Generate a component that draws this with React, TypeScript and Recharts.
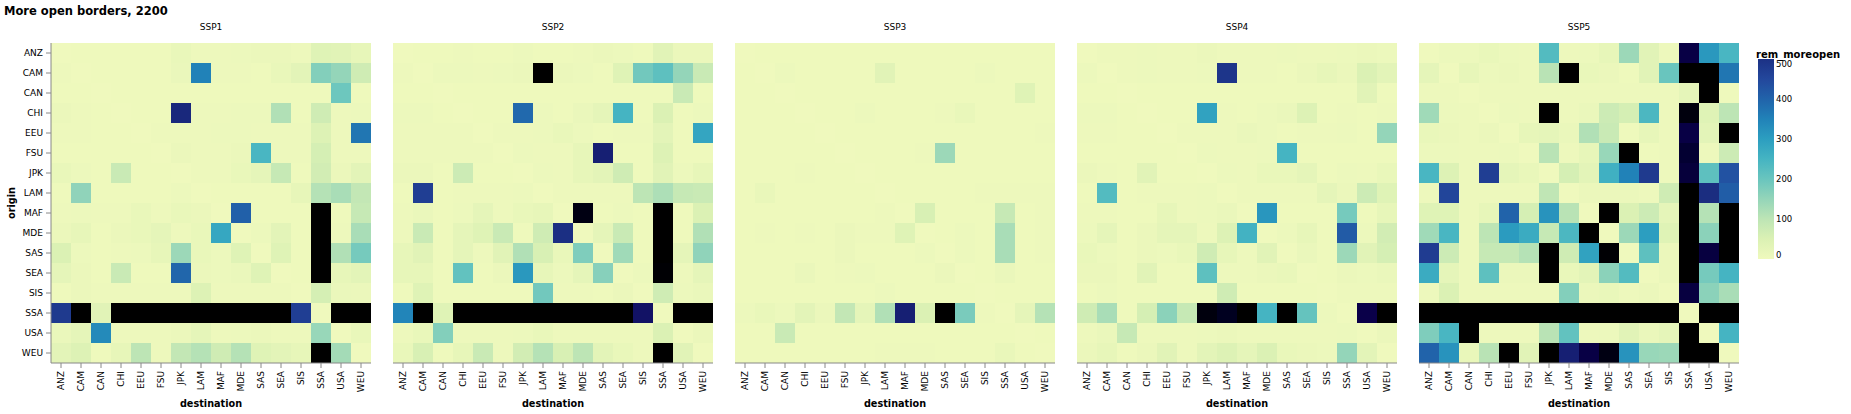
import { BarChart, Bar, Cell, XAxis, YAxis } from "recharts";

// regions, used both as origin (rows) and destination (columns)
const regions = ["ANZ", "CAM", "CAN", "CHI", "EEU", "FSU", "JPK", "LAM", "MAF", "MDE", "SAS", "SEA", "SIS", "SSA", "USA", "WEU"];
const panelNames = ["SSP1", "SSP2", "SSP3", "SSP4", "SSP5"];

// rem_moreopen, one row per origin, one column per destination
const ssp1 = [
  [0, 3, 3, 3, 3, 3, 15, 5, 5, 8, 10, 10, 5, 40, 35, 20],
  [5, 0, 3, 3, 3, 3, 12, 350, 5, 5, 3, 15, 30, 170, 150, 70],
  [3, 3, 0, 3, 3, 3, 3, 3, 3, 3, 3, 3, 3, 3, 195, 3],
  [10, 5, 3, 0, 3, 3, 520, 5, 5, 8, 8, 115, 3, 70, 5, 8],
  [5, 5, 3, 3, 0, 5, 5, 5, 8, 8, 5, 5, 5, 45, 5, 370],
  [3, 3, 3, 3, 3, 0, 10, 5, 5, 10, 245, 5, 5, 60, 5, 5],
  [15, 8, 3, 80, 3, 3, 0, 5, 5, 15, 25, 85, 3, 65, 10, 30],
  [3, 155, 3, 3, 3, 3, 8, 0, 3, 3, 3, 3, 20, 110, 125, 90],
  [5, 8, 5, 5, 15, 5, 15, 10, 0, 405, 3, 3, 3, 900, 3, 85],
  [10, 20, 3, 10, 15, 25, 5, 15, 280, 0, 8, 30, 3, 900, 5, 125],
  [50, 8, 3, 5, 8, 20, 140, 15, 8, 40, 0, 40, 3, 900, 115, 185],
  [25, 10, 3, 80, 3, 3, 395, 10, 8, 12, 40, 0, 3, 900, 20, 30],
  [3, 10, 5, 5, 5, 5, 5, 45, 5, 5, 5, 5, 0, 60, 12, 10],
  [480, 900, 35, 900, 900, 900, 900, 900, 900, 900, 900, 900, 470, 0, 900, 900],
  [12, 25, 335, 5, 5, 5, 10, 25, 5, 8, 10, 5, 5, 145, 0, 15],
  [30, 45, 3, 20, 100, 5, 90, 110, 70, 110, 40, 30, 20, 900, 130, 0],
];

const ssp2 = [
  [0, 3, 3, 5, 3, 3, 8, 3, 3, 5, 10, 8, 3, 35, 10, 10],
  [5, 0, 8, 8, 5, 8, 10, 900, 10, 8, 3, 40, 190, 215, 150, 80],
  [3, 3, 0, 3, 3, 3, 3, 3, 3, 3, 3, 3, 3, 3, 80, 3],
  [8, 8, 3, 0, 3, 3, 390, 8, 3, 12, 25, 250, 3, 50, 3, 8],
  [5, 5, 5, 5, 0, 5, 5, 8, 15, 8, 3, 5, 5, 30, 3, 285],
  [5, 5, 5, 5, 5, 0, 8, 5, 5, 20, 540, 3, 3, 45, 3, 3],
  [10, 10, 3, 75, 3, 3, 0, 8, 5, 20, 30, 70, 3, 35, 8, 20],
  [3, 470, 3, 5, 5, 5, 8, 0, 5, 5, 5, 5, 100, 120, 85, 80],
  [5, 12, 3, 8, 25, 5, 15, 20, 0, 750, 3, 8, 3, 900, 3, 50],
  [5, 80, 3, 25, 40, 80, 3, 70, 505, 0, 25, 80, 3, 900, 3, 115],
  [20, 35, 3, 25, 5, 35, 115, 55, 15, 175, 0, 135, 3, 900, 25, 155],
  [20, 20, 3, 210, 3, 10, 310, 20, 8, 25, 165, 0, 8, 780, 5, 25],
  [3, 40, 3, 3, 3, 3, 3, 190, 5, 5, 3, 10, 0, 70, 8, 12],
  [345, 900, 40, 900, 900, 900, 900, 900, 900, 900, 900, 900, 570, 0, 900, 900],
  [5, 15, 170, 5, 5, 5, 8, 15, 5, 5, 5, 5, 5, 50, 0, 10],
  [15, 55, 3, 20, 80, 5, 65, 110, 55, 100, 30, 15, 5, 900, 35, 0],
];

const ssp3 = [
  [0, 3, 3, 3, 3, 3, 3, 3, 3, 3, 3, 3, 3, 3, 3, 3],
  [3, 0, 8, 3, 3, 3, 3, 35, 3, 3, 3, 3, 8, 3, 3, 3],
  [3, 3, 0, 3, 3, 3, 3, 3, 3, 3, 3, 3, 3, 3, 40, 3],
  [3, 3, 3, 0, 3, 3, 8, 3, 3, 3, 5, 15, 3, 3, 3, 3],
  [3, 3, 3, 3, 0, 3, 3, 3, 3, 3, 3, 3, 3, 3, 3, 5],
  [3, 3, 3, 3, 3, 0, 3, 3, 3, 5, 140, 3, 3, 3, 3, 3],
  [3, 3, 3, 5, 3, 3, 0, 3, 3, 3, 3, 3, 3, 3, 3, 3],
  [3, 15, 3, 3, 3, 3, 3, 0, 3, 3, 3, 3, 5, 5, 5, 5],
  [3, 3, 3, 3, 3, 3, 3, 5, 0, 55, 3, 3, 3, 85, 3, 5],
  [3, 5, 3, 5, 3, 10, 5, 5, 40, 0, 3, 8, 3, 125, 3, 5],
  [3, 3, 3, 3, 3, 10, 3, 3, 3, 8, 0, 8, 3, 125, 3, 5],
  [3, 3, 3, 12, 3, 5, 8, 3, 3, 3, 10, 0, 3, 12, 3, 3],
  [3, 3, 3, 3, 3, 3, 3, 8, 3, 3, 3, 3, 0, 3, 3, 3],
  [8, 15, 8, 30, 10, 90, 25, 115, 540, 50, 900, 180, 5, 0, 25, 110],
  [3, 3, 80, 3, 3, 3, 3, 3, 3, 3, 3, 3, 3, 3, 0, 3],
  [3, 3, 3, 3, 3, 3, 3, 5, 5, 5, 3, 3, 3, 15, 3, 0],
];

const ssp4 = [
  [0, 5, 5, 8, 5, 5, 10, 5, 5, 5, 8, 5, 5, 8, 10, 8],
  [8, 0, 5, 8, 5, 5, 8, 490, 5, 5, 3, 10, 20, 10, 50, 30],
  [3, 3, 0, 3, 3, 3, 3, 3, 3, 3, 3, 3, 3, 3, 35, 3],
  [8, 8, 3, 0, 3, 3, 290, 5, 3, 8, 12, 45, 3, 5, 3, 5],
  [5, 5, 3, 3, 0, 5, 5, 5, 12, 8, 3, 5, 5, 8, 3, 150],
  [3, 3, 3, 3, 3, 0, 8, 5, 5, 8, 250, 3, 3, 3, 3, 3],
  [10, 5, 3, 35, 3, 3, 0, 8, 5, 15, 15, 25, 3, 8, 5, 15],
  [3, 230, 3, 5, 5, 5, 8, 0, 5, 5, 5, 5, 25, 10, 75, 40],
  [5, 5, 3, 3, 20, 5, 8, 12, 0, 315, 3, 3, 3, 185, 3, 20],
  [8, 25, 3, 10, 25, 25, 5, 45, 255, 0, 8, 20, 3, 415, 8, 65],
  [15, 8, 3, 10, 8, 15, 70, 20, 5, 35, 0, 12, 3, 140, 35, 60],
  [10, 10, 3, 35, 3, 3, 215, 5, 5, 10, 15, 0, 3, 10, 8, 12],
  [3, 8, 3, 3, 3, 3, 3, 70, 3, 3, 3, 3, 0, 5, 5, 5],
  [70, 125, 3, 60, 160, 85, 760, 720, 900, 250, 900, 205, 8, 0, 630, 900],
  [5, 12, 85, 5, 5, 5, 8, 10, 5, 5, 5, 5, 5, 8, 0, 10],
  [10, 20, 3, 10, 35, 5, 30, 45, 25, 50, 15, 10, 8, 150, 30, 0],
];

const ssp5 = [
  [0, 8, 8, 15, 8, 5, 230, 5, 8, 20, 140, 35, 5, 640, 310, 245],
  [25, 0, 20, 8, 10, 5, 105, 900, 15, 10, 3, 35, 200, 900, 900, 370],
  [5, 5, 0, 5, 5, 5, 5, 5, 5, 5, 5, 5, 5, 25, 900, 3],
  [135, 8, 5, 0, 8, 5, 900, 5, 12, 75, 60, 240, 5, 760, 40, 100],
  [15, 10, 5, 10, 0, 20, 25, 12, 115, 80, 3, 20, 5, 640, 30, 900],
  [8, 8, 5, 5, 8, 0, 105, 5, 20, 145, 900, 3, 5, 680, 5, 75],
  [245, 45, 5, 470, 25, 15, 0, 60, 30, 260, 350, 480, 5, 660, 215, 430],
  [5, 455, 5, 5, 5, 5, 95, 0, 10, 10, 10, 5, 70, 900, 510, 410],
  [40, 40, 5, 20, 400, 60, 320, 105, 0, 900, 50, 75, 25, 900, 110, 900],
  [135, 245, 5, 100, 305, 270, 85, 240, 900, 0, 140, 300, 40, 900, 160, 900],
  [475, 75, 5, 85, 85, 110, 900, 70, 290, 780, 0, 215, 10, 900, 650, 900],
  [270, 25, 5, 215, 10, 10, 900, 15, 30, 160, 230, 0, 10, 900, 185, 250],
  [5, 50, 5, 5, 5, 5, 5, 170, 10, 15, 5, 10, 0, 650, 160, 125],
  [900, 900, 900, 900, 900, 900, 900, 900, 900, 900, 900, 900, 900, 0, 900, 900],
  [175, 245, 900, 5, 5, 5, 105, 210, 5, 8, 35, 12, 25, 900, 0, 250],
  [400, 320, 15, 105, 900, 35, 900, 540, 640, 750, 320, 145, 140, 900, 900, 0],
];

const panelValues = [ssp1, ssp2, ssp3, ssp4, ssp5];
const legendTicks = [0, 100, 200, 300, 400, 500];

// yellowgreenblue, domain 0..500, extrapolated past the top like the original
const schemeColours = ["#eff9bd", "#dbf1b4", "#bde5b5", "#94d5b9", "#69c5be", "#45b4c2", "#2c9ec0", "#2182b8", "#2163aa", "#23479c", "#1c3185"];
const colourMax = 500;
const font = "DejaVu Sans";

function rgbOf(hex: string) {
  return [1, 3, 5].map((i) => parseInt(hex.slice(i, i + 2), 16));
}

function cellColour(v: number) {
  const n = schemeColours.length - 1;
  const t = (Math.max(0, v) / colourMax) * n;
  const i = Math.min(n - 1, Math.floor(t));
  const f = t - i;
  const a = rgbOf(schemeColours[i]);
  const b = rgbOf(schemeColours[i + 1]);
  const c = a.map((x, k) => Math.max(0, Math.min(255, Math.round(x + (b[k] - x) * f))));
  return `rgb(${c[0]},${c[1]},${c[2]})`;
}

const gridData = regions.map((dest) => {
  const row: any = { dest };
  regions.forEach((o) => (row[o] = 1));
  return row;
});

function DestTick({ x, y, payload }: any) {
  return (
    <text
      transform={`translate(${x},${y}) rotate(-90)`}
      textAnchor="end"
      dy="0.35em"
      fontSize={9}
      fontFamily={font}
      fill="#000"
    >
      {payload.value}
    </text>
  );
}

function Panel({ index }: { index: number }) {
  const values = panelValues[index];
  const plotLeft = 51 + 342 * index;
  const first = index === 0;
  return (
    <div style={{ position: "absolute", left: plotLeft - 50, top: 0 }}>
      <BarChart
        width={380}
        height={414}
        data={gridData}
        barCategoryGap={0}
        barGap={0}
        margin={{ top: 43, right: 10, bottom: 0, left: first ? 0 : 50 }}
      >
        <XAxis
          dataKey="dest"
          type="category"
          height={51}
          interval={0}
          tickSize={5}
          tickMargin={3}
          tick={<DestTick />}
          axisLine={{ stroke: "#888" }}
          tickLine={{ stroke: "#888" }}
        />
        <YAxis
          type="number"
          hide={!first}
          width={50}
          domain={[0, regions.length]}
          ticks={regions.map((_, i) => i + 0.5)}
          interval={0}
          tickFormatter={(v) => regions[regions.length - 1 - Math.floor(v)]}
          tickSize={5}
          tickMargin={3}
          tick={{ fontSize: 9, fontFamily: font, fill: "#000" }}
          axisLine={{ stroke: "#888" }}
          tickLine={{ stroke: "#888" }}
        />
        {[...regions].reverse().map((origin) => {
          const oi = regions.indexOf(origin);
          return (
            <Bar key={origin} dataKey={origin} stackId="grid" isAnimationActive={false}>
              {regions.map((d, j) => (
                <Cell key={d} fill={cellColour(values[oi][j])} shapeRendering="crispEdges" />
              ))}
            </Bar>
          );
        })}
      </BarChart>
    </div>
  );
}

export default function App() {
  const barTop = 59;
  const barHeight = 200;
  return (
    <div style={{ position: "absolute", left: 0, top: 0, width: 1851, height: 414, background: "#fff" }}>
      {panelNames.map((_, i) => (
        <Panel key={i} index={i} />
      ))}
      <svg width={1851} height={414} style={{ position: "absolute", left: 0, top: 0, pointerEvents: "none" }}>
        <defs>
          <linearGradient id="remGrad" x1="0" y1="1" x2="0" y2="0">
            {schemeColours.map((c, i) => (
              <stop key={i} offset={i / (schemeColours.length - 1)} stopColor={c} />
            ))}
          </linearGradient>
        </defs>
        <text x={4} y={15} fontSize={11.5} fontWeight="bold" fontFamily={font} fill="#000">
          More open borders, 2200
        </text>
        {panelNames.map((name, i) => (
          <g key={name}>
            <text x={51 + 342 * i + 160} y={30} fontSize={9} fontFamily={font} textAnchor="middle" fill="#000">
              {name}
            </text>
            <text x={51 + 342 * i + 160} y={407} fontSize={9.7} fontWeight="bold" fontFamily={font} textAnchor="middle" fill="#000">
              destination
            </text>
          </g>
        ))}
        <text
          transform="translate(14.5,203) rotate(-90)"
          fontSize={9.7}
          fontWeight="bold"
          fontFamily={font}
          textAnchor="middle"
          fill="#000"
        >
          origin
        </text>
        <text x={1756} y={58} fontSize={10} fontWeight="bold" fontFamily={font} fill="#000">
          rem_moreopen
        </text>
        <rect x={1758} y={barTop} width={16} height={barHeight} fill="url(#remGrad)" />
        {legendTicks.map((t, i) => {
          const y = barTop + barHeight * (1 - t / colourMax);
          const last = i === legendTicks.length - 1;
          const dy = i === 0 ? -1 : last ? 8 : 3;
          return (
            <text key={t} x={1776} y={y + dy} fontSize={8.5} fontFamily={font} fill="#000">
              {t}
            </text>
          );
        })}
      </svg>
    </div>
  );
}
